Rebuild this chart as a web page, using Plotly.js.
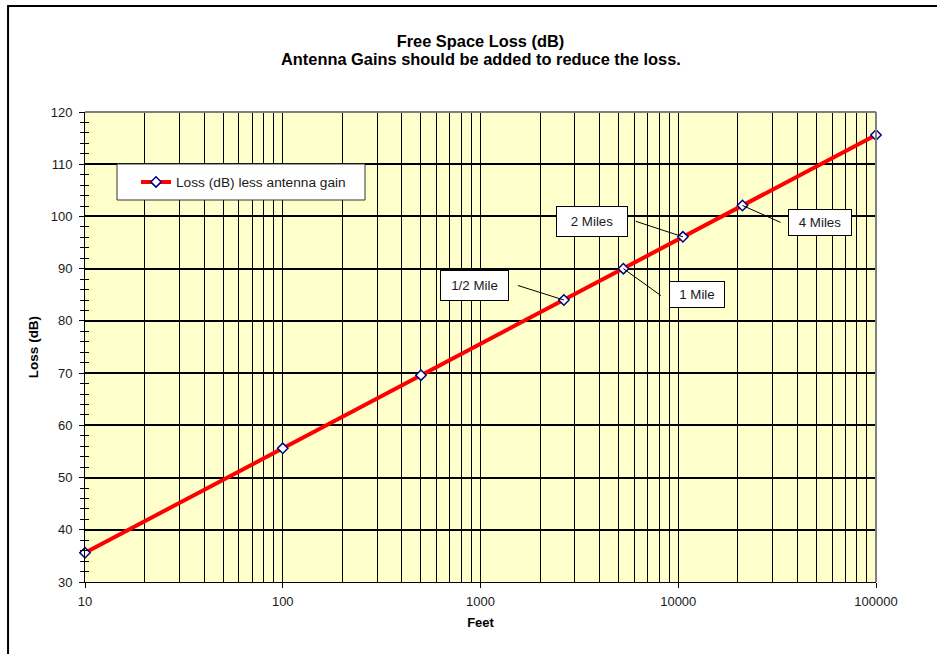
<!DOCTYPE html>
<html>
<head>
<meta charset="utf-8">
<script src="https://cdn.plot.ly/plotly-3.0.1.min.js"></script>
<style>body{margin:0;padding:0;background:#fff;}#chart{width:937px;height:654px;}</style>
</head>
<body>
<div id="chart"></div>
<script>
// Data
const distanceFeet = [10, 100, 500, 2640, 5280, 10560, 21120, 100000];
const lossDb = [35.6, 55.6, 69.6, 84.0, 90.0, 96.1, 102.1, 115.6];
const seriesName = 'Loss (dB) less antenna gain';
const calloutLabels = ['1/2 Mile', '1 Mile', '2 Miles', '4 Miles'];
const calloutIndex = [3, 4, 5, 6];
const xTickVals = [10, 100, 1000, 10000, 100000];
const xTickText = ['10', '100', '1000', '10000', '100000'];
const titleLine1 = 'Free Space Loss (dB)';
const titleLine2 = 'Antenna Gains should be added to reduce the loss.';

const FONT = 'Arial, "Liberation Sans", sans-serif';
const TXT = '#1a1a1a';

// callout box placement (pixel offsets) and leader line tails (pixel offsets)
const boxShift = [[-89, 14.5, 65, 27], [74, -26, 52, 23], [-91, 15, 68, 27], [78, -17, 60, 23]];
const lineTail = [[-47.5, -15], [39, 28], [-48.7, -16], [39.7, 17.6]];

const annotations = [];
calloutLabels.forEach((lab, i) => {
  const k = calloutIndex[i];
  annotations.push({
    x: Math.log10(distanceFeet[k]), y: lossDb[k], xref: 'x', yref: 'y',
    text: '', showarrow: true, arrowhead: 0, arrowwidth: 1, arrowcolor: '#000',
    ax: lineTail[i][0], ay: lineTail[i][1], standoff: 0
  });
  annotations.push({
    x: Math.log10(distanceFeet[k]), y: lossDb[k], xref: 'x', yref: 'y',
    text: lab, showarrow: false,
    xshift: boxShift[i][0], yshift: boxShift[i][1],
    width: boxShift[i][2], height: boxShift[i][3],
    bgcolor: '#ffffff', bordercolor: '#000000', borderwidth: 1,
    font: {family: FONT, size: 13.3, color: TXT}
  });
});
annotations.push({
  xref: 'paper', yref: 'paper', x: 0.5, y: (582 - 59) / 470, yanchor: 'middle',
  text: '<b>' + titleLine2 + '</b>', showarrow: false,
  font: {family: FONT, size: 16.4, color: '#000'}
});

const trace = {
  x: distanceFeet, y: lossDb, name: seriesName,
  type: 'scatter', mode: 'lines+markers',
  line: {color: '#ff0000', width: 4},
  marker: {symbol: 'diamond', size: 8, color: '#ffffff', line: {color: '#000080', width: 1.5}},
  cliponaxis: false
};

const layout = {
  width: 937, height: 654,
  margin: {l: 85, r: 61, t: 112, b: 72},
  paper_bgcolor: '#ffffff', plot_bgcolor: '#ffffcc',
  font: {family: FONT, size: 13, color: TXT},
  title: {
    text: '<b>' + titleLine1 + '</b>',
    font: {family: FONT, size: 16.4, color: '#000'},
    x: 0.5, xref: 'paper', y: 1 - 41.5 / 654, yref: 'container', yanchor: 'middle'
  },
  showlegend: true,
  legend: {
    x: (136 - 85) / 791, y: (582 - 182) / 470, xanchor: 'left', yanchor: 'middle',
    bgcolor: 'rgba(0,0,0,0)', borderwidth: 0,
    font: {family: FONT, size: 13.7, color: TXT},
    itemwidth: 30
  },
  xaxis: {
    type: 'log', range: [1, 5],
    tickvals: xTickVals, ticktext: xTickText,
    ticks: 'outside', ticklen: 5, tickcolor: '#000', tickwidth: 1,
    ticklabelstandoff: 2,
    showline: true, linecolor: '#000', linewidth: 1,
    showgrid: true, gridcolor: '#000', gridwidth: 1,
    minor: {dtick: 'D1', showgrid: true, gridcolor: '#000', gridwidth: 1, ticks: ''},
    tickfont: {family: FONT, size: 13, color: TXT},
    title: {text: '<b>Feet</b>', font: {family: FONT, size: 13, color: '#000'}, standoff: 10},
    zeroline: false, automargin: false
  },
  yaxis: {
    range: [30, 120], dtick: 10, tick0: 0,
    ticks: 'outside', ticklen: 5, tickcolor: '#000', tickwidth: 1,
    ticklabelstandoff: 4,
    showline: true, linecolor: '#000', linewidth: 1,
    showgrid: true, gridcolor: '#000', gridwidth: 2,
    minor: {dtick: 2, ticks: 'outside', ticklen: 4, tickcolor: '#000', showgrid: false},
    tickfont: {family: FONT, size: 13, color: TXT},
    title: {text: '<b>Loss (dB)</b>', font: {family: FONT, size: 13.5, color: '#000'}, standoff: 8},
    zeroline: false, automargin: false
  },
  yaxis2: {
    overlaying: 'y', range: [30, 120], dtick: 10, tick0: 0,
    ticks: 'inside', ticklen: 5, tickcolor: '#000', showticklabels: false,
    minor: {dtick: 2, ticks: 'inside', ticklen: 4, tickcolor: '#000', showgrid: false},
    showgrid: false, zeroline: false, showline: false, side: 'left'
  },
  shapes: [
    {type: 'line', xref: 'paper', yref: 'paper', x0: 0, x1: 1, y0: 1, y1: 1, line: {color: '#808080', width: 2}},
    {type: 'line', xref: 'paper', yref: 'paper', x0: 1, x1: 1, y0: 0, y1: 1, line: {color: '#808080', width: 2}},
    {type: 'rect', xref: 'paper', yref: 'paper', x0: -0.0973, x1: 1.2, y0: -0.4, y1: 1.2255, line: {color: '#000', width: 2}, layer: 'below'},
    // legend frame
    {type: 'rect', xref: 'paper', yref: 'paper', x0: (117 - 85) / 791, x1: (365 - 85) / 791, y0: (582 - 200) / 470, y1: (582 - 164) / 470,
     fillcolor: '#ffffff', line: {color: '#333333', width: 1}, layer: 'above'}
  ],
  annotations: annotations
};

const dummy = {x: [10], y: [30], yaxis: 'y2', showlegend: false, mode: 'markers', marker: {opacity: 0}, hoverinfo: 'skip'};

Plotly.newPlot('chart', [dummy, trace], layout, {displayModeBar: false, staticPlot: true});
</script>
</body>
</html>
